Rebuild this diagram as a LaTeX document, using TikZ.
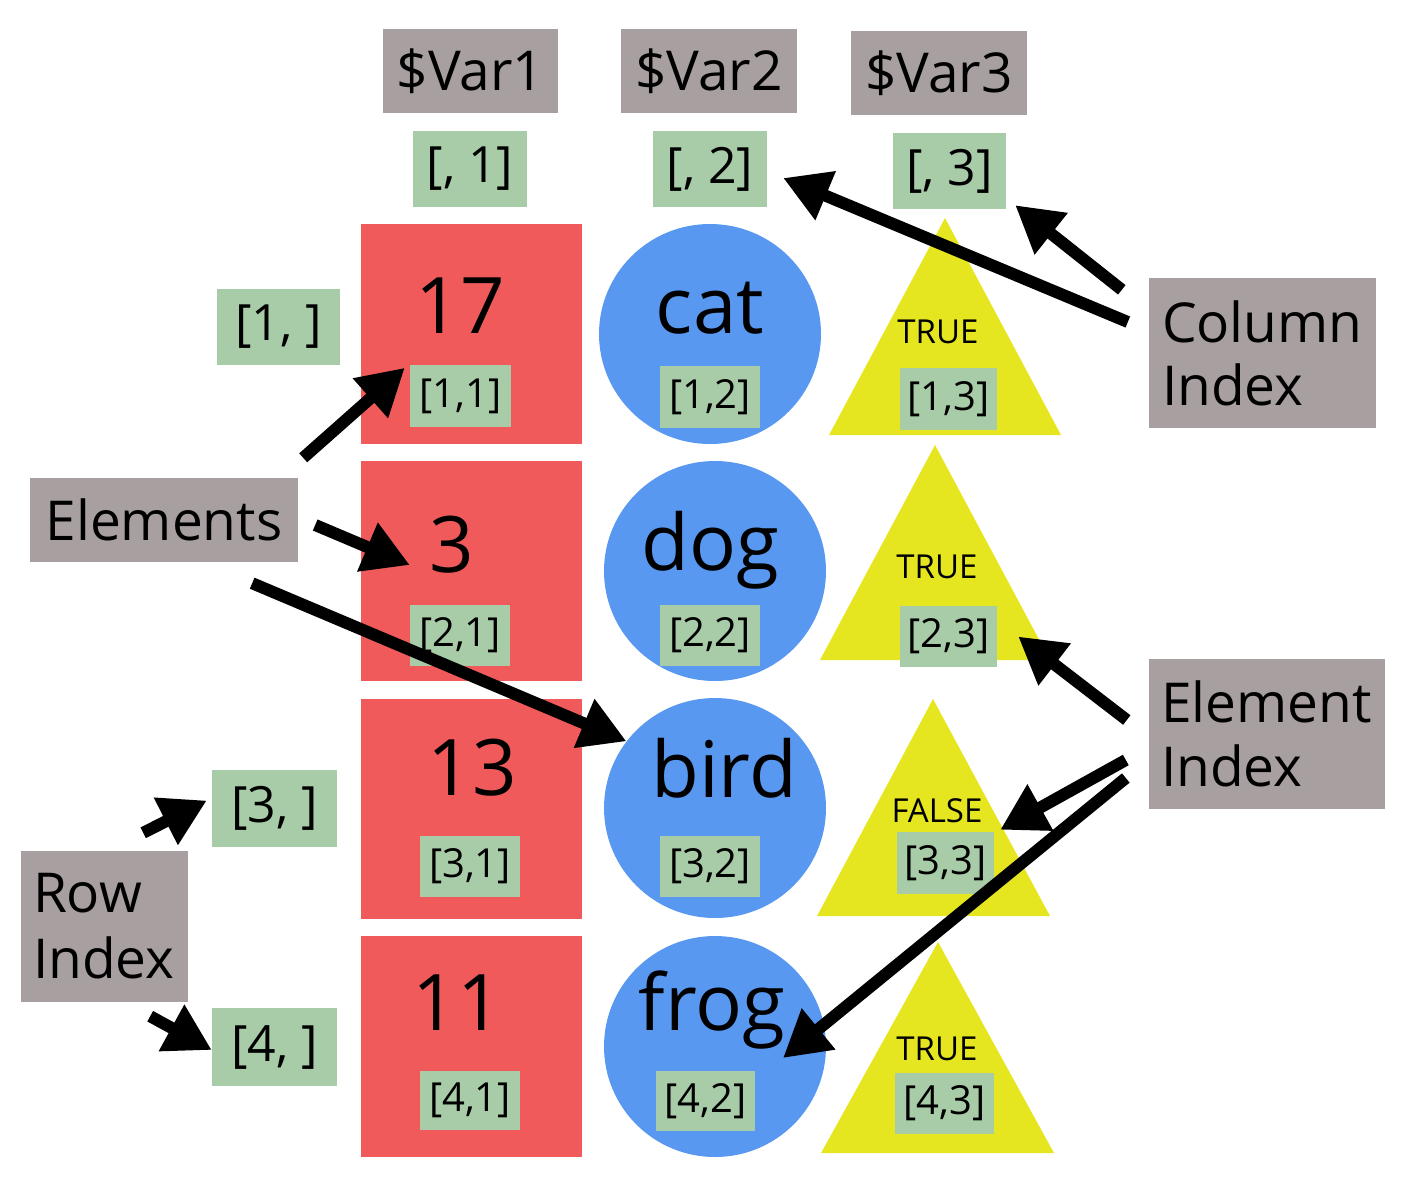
\documentclass[tikz,border=0pt]{standalone}
\usepackage{fontspec}
\setmainfont{Open Sans}
\usetikzlibrary{calc,positioning,arrows.meta,shapes.geometric}
\definecolor{cellred}{RGB}{240,90,90}
\definecolor{cellblue}{RGB}{88,152,240}
\definecolor{cellyellow}{RGB}{230,230,32}
\definecolor{idxgreen}{RGB}{168,204,168}
\definecolor{labelgray}{RGB}{168,160,160}
\tikzset{
  boxsize/.style 2 args={minimum width=#1pt, minimum height=#2pt},
  greybox/.style={
    fill=labelgray,
    inner sep=0pt,
    font=\fontsize{55}{64}\selectfont},
  indexbox/.style={
    fill=idxgreen,
    inner sep=0pt,
    font=\fontsize{50}{60}\selectfont},
  cellindex/.style={
    fill=idxgreen,
    inner sep=0pt,
    font=\fontsize{40}{48}\selectfont},
  redcell/.style={fill=cellred, inner sep=0pt, boxsize={221}{220}},
  bluecell/.style={ellipse, fill=cellblue, inner sep=0pt, boxsize={222}{220}},
  bigvalue/.style={anchor=base, inner sep=0pt, font=\fontsize{78}{90}\selectfont},
  logvalue/.style={anchor=base, inner sep=0pt, font=\fontsize{33}{40}\selectfont},
  pointer/.style={line width=12pt, -{Triangle[length=46pt,width=50pt]}},
}
\begin{document}
\begin{tikzpicture}[x=1pt, y=-1pt]
  \useasboundingbox (0,0) rectangle (1408,1203);
  % column names and column indices
  \node[greybox, boxsize={175}{84}] (var1) at (470.5,71) {\$Var1};
  \node[greybox, boxsize={176}{84}] (var2) at (709,71) {\$Var2};
  \node[greybox, boxsize={176}{84}] (var3) at (939,73) {\$Var3};
  \node[indexbox, boxsize={114}{76}] (col1) at (470,169) {[, 1]};
  \node[indexbox, boxsize={114}{76}] (col2) at (710,169) {[, 2]};
  \node[indexbox, boxsize={113}{76}] (col3) at (949.5,171) {[, 3]};
  % first column: numbers
  \node[redcell] (r1) at (471.5,334) {};
  \node[redcell] (r2) at (471.5,571) {};
  \node[redcell] (r3) at (471.5,809) {};
  \node[redcell, boxsize={221}{221}] (r4) at (471.5,1046.5) {};
  \node[bigvalue] (v11) at (460,333) {17};
  \node[bigvalue] (v21) at (452,572) {3};
  \node[bigvalue] (v31) at (472,795) {13};
  \node[bigvalue] (v41) at (457,1030) {11};
  \node[cellindex, boxsize={101}{62}] (e11) at (460.5,396) {[1,1]};
  \node[cellindex, boxsize={100}{61}] (e21) at (460,635.5) {[2,1]};
  \node[cellindex, boxsize={100}{61}] (e31) at (470,866.5) {[3,1]};
  \node[cellindex, boxsize={100}{59}] (e41) at (470,1100.5) {[4,1]};
  % second column: words
  \node[bluecell] (c1) at (710,334) {};
  \node[bluecell] (c2) at (715,571) {};
  \node[bluecell] (c3) at (715,808) {};
  \node[bluecell, boxsize={222}{221}] (c4) at (715,1046.5) {};
  \node[bigvalue] (v12) at (710,333) {cat};
  \node[bigvalue] (v22) at (710,570) {dog};
  \node[bigvalue] (v32) at (724,797) {bird};
  \node[bigvalue] (v42) at (712,1030) {frog};
  \node[cellindex, boxsize={100}{62}] (e12) at (710,397) {[1,2]};
  \node[cellindex, boxsize={100}{61}] (e22) at (710,635.5) {[2,2]};
  \node[cellindex, boxsize={100}{61}] (e32) at (710,866.5) {[3,2]};
  \node[cellindex, boxsize={99}{60}] (e42) at (705.5,1101) {[4,2]};
  % third column: logicals
  \fill[cellyellow] (829,435) -- (945,218) -- (1061,435) -- cycle;
  \fill[cellyellow] (820,660) -- (935,445) -- (1050,660) -- cycle;
  \fill[cellyellow] (817,916) -- (933,699) -- (1050,916) -- cycle;
  \fill[cellyellow] (821,1153) -- (938,942) -- (1054,1153) -- cycle;
  \node[logvalue] (v13) at (938,343) {TRUE};
  \node[logvalue] (v23) at (937,578) {TRUE};
  \node[logvalue] (v33) at (937,822) {FALSE};
  \node[logvalue] (v43) at (937,1060) {TRUE};
  \node[cellindex, boxsize={97}{62}] (e13) at (948.5,399) {[1,3]};
  \node[cellindex, boxsize={97}{61}] (e23) at (948.5,636.5) {[2,3]};
  \node[cellindex, boxsize={97}{62}] (e33) at (945.5,863) {[3,3]};
  \node[cellindex, boxsize={99}{61}] (e43) at (944.5,1103.5) {[4,3]};
  % row indices and labels
  \node[indexbox, boxsize={123}{76}] (row1) at (278.5,327) {[1, ]};
  \node[indexbox, boxsize={125}{77}] (row3) at (274.5,808.5) {[3, ]};
  \node[indexbox, boxsize={125}{78}] (row4) at (274.5,1047) {[4, ]};
  \node[greybox, boxsize={268}{84}] (elements) at (164,520) {Elements};
  \node[greybox, align=left, inner xsep=12pt, text width=143pt, minimum height=151pt,
    font=\fontsize{55}{66}\selectfont] (rowidx) at (104.5,926.5) {Row\\Index};
  \node[greybox, align=left, inner xsep=13pt, text width=201pt, minimum height=150pt,
    font=\fontsize{55}{63}\selectfont] (colidx) at (1262.5,353) {Column\\Index};
  \node[greybox, align=left, inner xsep=12pt, text width=212pt, minimum height=150pt,
    font=\fontsize{55}{64}\selectfont] (elemidx) at (1267,734) {Element\\Index};
  % Now the pointers, drawn on top of everything
  \draw[pointer] ($(elements.north east)+(5,-20)$) -- ($(e11.north west)+(-5,3)$);
  \draw[pointer] ($(elements.east)+(17,5)$) -- ($(r2.west)+(49,-6)$);
  \draw[pointer] ($(elements.south east)+(-46,21)$) -- (c3.143);
  \draw[pointer] ($(colidx.west)+(-21,-31)$) -- ($(col2.east)+(16,9)$);
  \draw[pointer] ($(colidx.north west)+(-27,12)$) -- ($(col3.south east)+(9,-4)$);
  \draw[pointer] ($(elemidx.west)+(-22,-14)$) -- ($(e23.east)+(21,0)$);
  \draw[pointer] ($(elemidx.west)+(-23,26)$) -- ($(e33.north east)+(6,-2)$);
  \draw[pointer] ($(elemidx.west)+(-23,44)$) -- ($(c4.center)+(68,11.5)$);
  \draw[pointer] ($(rowidx.north east)+(-45,-18)$) -- ($(row3.west)+(-5,-8)$);
  \draw[pointer] ($(rowidx.south east)+(-38,14)$) -- ($(row4.west)+(0,3)$);
\end{tikzpicture}
\end{document}
